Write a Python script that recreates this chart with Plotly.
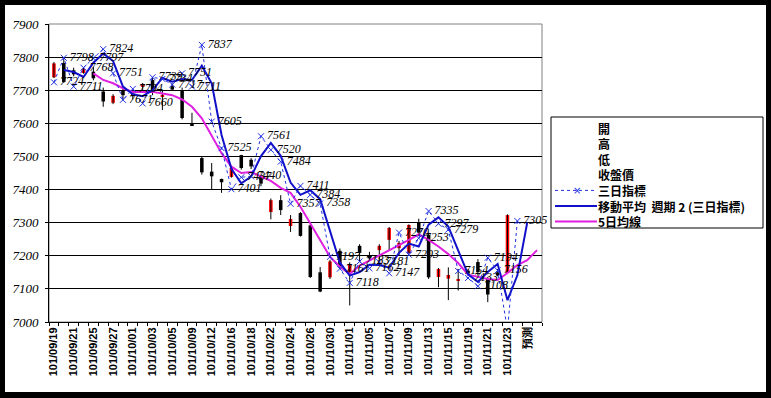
import plotly.graph_objects as go

# ---------------- data ----------------
dates = ["101/09/19", "101/09/20", "101/09/21", "101/09/24", "101/09/25", "101/09/26",
         "101/09/27", "101/09/28", "101/10/01", "101/10/02", "101/10/03", "101/10/04",
         "101/10/05", "101/10/08", "101/10/09", "101/10/11", "101/10/12", "101/10/15",
         "101/10/16", "101/10/17", "101/10/18", "101/10/19", "101/10/22", "101/10/23",
         "101/10/24", "101/10/25", "101/10/26", "101/10/29", "101/10/30", "101/10/31",
         "101/11/01", "101/11/02", "101/11/05", "101/11/06", "101/11/07", "101/11/08",
         "101/11/09", "101/11/12", "101/11/13", "101/11/14", "101/11/15", "101/11/16",
         "101/11/19", "101/11/20", "101/11/21", "101/11/22", "101/11/23"]
extra_categories = ["101/11/26", "預測", "101/11/27"]
categories = dates + extra_categories
tick_labels = [c if i % 2 == 0 else "" for i, c in enumerate(categories)]

open_ = [7739, 7782, 7760, 7752, 7756, 7696, 7662, 7700, 7690, 7710, 7731, 7680,
         7712, 7700, 7598, 7495, 7454, 7432, 7438, 7504, 7490, 7438, 7332, 7368,
         7290, 7329, 7292, 7150, 7135, 7215, 7151, 7230, 7202, 7217, 7248, 7223,
         7208, 7300, 7263, 7136, 7131, 7125, 7155, 7181, 7127, 7150, 7148]
high = [7785, 7795, 7768, 7768, 7770, 7708, 7688, 7708, 7695, 7722, 7740, 7700,
        7720, 7708, 7632, 7500, 7480, 7433, 7470, 7505, 7495, 7445, 7373, 7383,
        7323, 7332, 7295, 7166, 7188, 7222, 7180, 7235, 7212, 7235, 7287, 7245,
        7295, 7312, 7270, 7163, 7165, 7160, 7160, 7190, 7136, 7160, 7325]
low = [7737, 7722, 7742, 7750, 7730, 7650, 7658, 7670, 7672, 7700, 7685, 7640,
       7698, 7612, 7592, 7445, 7399, 7390, 7436, 7460, 7462, 7410, 7310, 7323,
       7272, 7258, 7133, 7090, 7130, 7160, 7050, 7182, 7186, 7170, 7215, 7200,
       7205, 7262, 7130, 7105, 7066, 7095, 7140, 7140, 7060, 7138, 7145]
close = [7781, 7725, 7748, 7764, 7736, 7666, 7683, 7685, 7682, 7719, 7692, 7686,
         7702, 7616, 7594, 7452, 7440, 7422, 7465, 7465, 7470, 7418, 7368, 7338,
         7311, 7260, 7136, 7092, 7183, 7168, 7172, 7209, 7192, 7230, 7284, 7239,
         7293, 7270, 7135, 7160, 7142, 7130, 7146, 7151, 7083, 7142, 7323]

# 三日指標 (index 0 .. 47)
three_day = [7724, 7798, 7711, 7768, 7797, 7824, 7751, 7671, 7704, 7660, 7739, 7734,
             7717, 7751, 7711, 7837, 7605, 7525, 7401, 7437, 7440, 7561, 7520, 7484,
             7357, 7411, 7384, 7358, 7197, 7161, 7118, 7183, 7162, 7181, 7147, 7270,
             7203, 7253, 7335, 7297, 7279, 7154, 7133, 7108, 7194, 7156, 6976, 7305]

# 移動平均 週期 2 (三日指標)  (index 1 .. 48)
ma2 = [7761, 7755, 7740, 7783, 7811, 7788, 7711, 7688, 7682, 7700, 7737, 7726,
       7734, 7731, 7774, 7721, 7565, 7463, 7419, 7439, 7501, 7541, 7502, 7421,
       7384, 7398, 7371, 7278, 7179, 7140, 7151, 7173, 7172, 7164, 7209, 7237,
       7228, 7294, 7316, 7288, 7217, 7144, 7121, 7151, 7175, 7066, 7141, 7300]

# 5日均線 (index 4 .. 49)
ma5 = [7751, 7731, 7721, 7706, 7695, 7695, 7695, 7690, 7685, 7672, 7650, 7615,
       7562, 7510, 7469, 7450, 7453, 7440, 7426, 7405, 7390, 7348, 7299, 7248,
       7197, 7167, 7145, 7170, 7185, 7200, 7215, 7232, 7248, 7265, 7248, 7228,
       7205, 7178, 7143, 7137, 7130, 7127, 7148, 7172, 7187, 7217]

y_ticks = [7000, 7100, 7200, 7300, 7400, 7500, 7600, 7700, 7800, 7900]
legend_names = ["開", "高", "低", "收盤價", "三日指標", "移動平均  週期 2 (三日指標)", "5日均線"]

# ---------------- figure ----------------
W, H = 771, 398
ML, MR, MT, MB = 49, 229, 24, 76
PW, PH = W - ML - MR, H - MT - MB
Y_MIN, Y_MAX = y_ticks[0], y_ticks[-1]


def fx(px):
    return (px - ML) / PW


def fy(py):
    return (H - MB - py) / PH


fig = go.Figure()

# wicks (high-low lines)
wx, wy = [], []
for i, d in enumerate(dates):
    wx += [d, d, None]
    wy += [low[i], high[i], None]
fig.add_trace(go.Scatter(x=wx, y=wy, mode="lines", line=dict(color="black", width=1),
                         hoverinfo="skip", showlegend=False))

# bodies
body_base = [min(o, c) for o, c in zip(open_, close)]
body_h = [abs(c - o) for o, c in zip(open_, close)]
body_col = ["#FF0000" if c >= o else "#000000" for o, c in zip(open_, close)]
fig.add_trace(go.Bar(x=dates, y=body_h, base=body_base, width=0.36,
                     marker=dict(color=body_col, line=dict(width=0)), showlegend=False))

# 5-day MA
fig.add_trace(go.Scatter(x=categories[4:4 + len(ma5)], y=ma5, mode="lines",
                         line=dict(color="#E020E0", width=2), showlegend=False))

# moving average period 2
fig.add_trace(go.Scatter(x=categories[1:1 + len(ma2)], y=ma2, mode="lines",
                         line=dict(color="#1010C8", width=2), showlegend=False))

# three-day indicator: line + markers (clipped)
fig.add_trace(go.Scatter(x=categories[:len(three_day)], y=three_day, mode="lines+markers",
                         line=dict(color="#2030E0", width=1, dash="dot"),
                         marker=dict(symbol="x-thin", size=6, line=dict(color="#2030E0", width=1)),
                         showlegend=False))
# data labels (may spill over the plot border like the original)
lab_x = [c for c, v in zip(categories, three_day) if Y_MIN <= v <= Y_MAX]
lab_y = [v for v in three_day if Y_MIN <= v <= Y_MAX]
fig.add_trace(go.Scatter(x=lab_x, y=lab_y, mode="text", text=[str(v) for v in lab_y],
                         texttemplate="  %{text}", textposition="middle right", cliponaxis=False,
                         textfont=dict(family="Liberation Serif", size=12, color="black", style="italic"),
                         hoverinfo="skip", showlegend=False))

shapes = [
    dict(type="rect", xref="paper", yref="paper", x0=fx(5), x1=fx(766), y0=fy(392), y1=fy(5),
         fillcolor="white", line=dict(width=0), layer="below"),
    dict(type="rect", xref="paper", yref="paper", x0=0, x1=1, y0=0, y1=1,
         line=dict(color="#808080", width=1), layer="below"),
    # legend box
    dict(type="rect", xref="paper", yref="paper", x0=fx(551), x1=fx(763), y0=fy(228), y1=fy(117),
         fillcolor="white", line=dict(color="black", width=1), layer="above"),
]
annotations = []
leg_y = [128, 143.6, 159.2, 174.8, 190.4, 206, 221.6]
for name, yy in zip(legend_names, leg_y):
    annotations.append(dict(xref="paper", yref="paper", x=fx(596), y=fy(yy), text=name,
                            showarrow=False, xanchor="left", yanchor="middle",
                            font=dict(family="Noto Sans CJK TC", size=12, color="black", weight="bold")))
# legend symbols
shapes.append(dict(type="line", xref="paper", yref="paper", x0=fx(555), x1=fx(597),
                   y0=fy(leg_y[4]), y1=fy(leg_y[4]), line=dict(color="#2030E0", width=1, dash="dot"),
                   layer="above"))
annotations.append(dict(xref="paper", yref="paper", x=fx(577), y=fy(leg_y[4]), text="×",
                        showarrow=False, xanchor="center", yanchor="middle",
                        font=dict(family="DejaVu Sans", size=10, color="#2030E0")))
shapes.append(dict(type="line", xref="paper", yref="paper", x0=fx(555), x1=fx(597),
                   y0=fy(leg_y[5]), y1=fy(leg_y[5]), line=dict(color="#1010C8", width=2),
                   layer="above"))
shapes.append(dict(type="line", xref="paper", yref="paper", x0=fx(555), x1=fx(597),
                   y0=fy(leg_y[6]), y1=fy(leg_y[6]), line=dict(color="#E020E0", width=2),
                   layer="above"))

fig.update_layout(
    width=W, height=H,
    margin=dict(l=ML, r=MR, t=MT, b=MB, pad=0),
    paper_bgcolor="black", plot_bgcolor="white",
    showlegend=False, barmode="overlay",
    shapes=shapes, annotations=annotations,
    xaxis=dict(type="category", categoryorder="array", categoryarray=categories,
               range=[-0.5, len(categories) - 0.5], tickson="boundaries",
               tickmode="array", tickvals=categories, ticktext=tick_labels,
               tickangle=-90, ticks="outside", ticklen=3, tickcolor="black",
               showline=True, linecolor="black", linewidth=1, showgrid=False,
               tickfont=dict(family="Liberation Sans", size=11, color="black", weight="bold")),
    yaxis=dict(range=[Y_MIN, Y_MAX], tickmode="array", tickvals=y_ticks,
               ticks="outside", ticklen=3, tickcolor="black", ticklabelstandoff=4,
               showline=True, linecolor="black", linewidth=1, showgrid=False,
               minor=dict(tickmode="array", tickvals=y_ticks[1:-1], showgrid=True,
                          gridcolor="black", gridwidth=1),
               tickfont=dict(family="Liberation Serif", size=13, color="black", style="italic")),
)

fig.write_html("out.html", config={"displayModeBar": False},
               post_script="document.body.style.margin='0';document.body.style.overflow='hidden';")
